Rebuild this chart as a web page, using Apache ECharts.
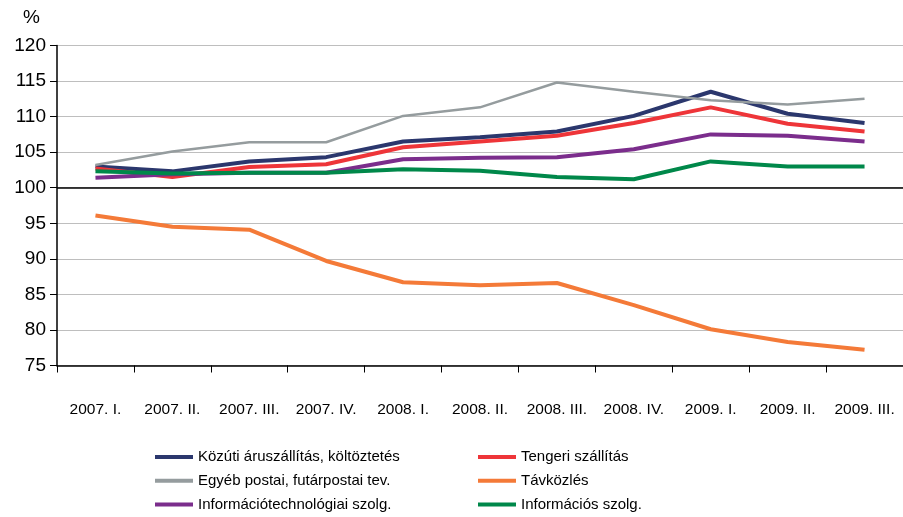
<!DOCTYPE html>
<html>
<head>
<meta charset="utf-8">
<script src="https://cdn.jsdelivr.net/npm/echarts@6/dist/echarts.min.js"></script>
<style>
  html, body { margin: 0; padding: 0; background: #fff; }
  #main { width: 903px; height: 517px; }
</style>
</head>
<body>
<div id="main"></div>
<script>
var quarters = ['2007. I.', '2007. II.', '2007. III.', '2007. IV.', '2008. I.', '2008. II.',
  '2008. III.', '2008. IV.', '2009. I.', '2009. II.', '2009. III.'];

var kozuti = [103.0, 102.3, 103.7, 104.3, 106.5, 107.1, 107.9, 110.1, 113.5, 110.4, 109.1];
var tengeri = [102.7, 101.5, 102.9, 103.3, 105.7, 106.5, 107.3, 109.1, 111.3, 109.0, 107.9];
var egyebPostai = [103.2, 105.1, 106.4, 106.4, 110.1, 111.3, 114.8, 113.5, 112.3, 111.7, 112.5];
var tavkozles = [96.1, 94.5, 94.1, 89.7, 86.7, 86.3, 86.6, 83.5, 80.1, 78.3, 77.2];
var infotech = [101.4, 101.9, 102.1, 102.1, 104.0, 104.2, 104.3, 105.4, 107.5, 107.3, 106.5];
var informacios = [102.3, 102.0, 102.1, 102.1, 102.6, 102.4, 101.5, 101.2, 103.7, 103.0, 103.0];

var seriesNames = ['Közúti áruszállítás, költöztetés', 'Tengeri szállítás', 'Egyéb postai, futárpostai tev.',
  'Távközlés', 'Információtechnológiai szolg.', 'Információs szolg.'];
var baseline = 100;

var font = '"Liberation Sans", Arial, sans-serif';

var myChart = echarts.init(document.getElementById('main'), null, { renderer: 'canvas' });

var line = function(name, data, color, width) {
  return {
    name: name,
    type: 'line',
    data: data,
    symbol: 'none',
    color: color,
    lineStyle: { color: color, width: width },
    animation: false
  };
};

var series = [
  line(seriesNames[0], kozuti, '#2B376D', 4),
  line(seriesNames[1], tengeri, '#EE3539', 4),
  line(seriesNames[2], egyebPostai, '#959C9E', 2.5),
  line(seriesNames[3], tavkozles, '#F47A38', 4),
  line(seriesNames[4], infotech, '#7B2D8C', 4),
  line(seriesNames[5], informacios, '#00884A', 4)
];

// fekete vonal a 100-as szinten
series[0].markLine = {
  silent: true,
  symbol: 'none',
  label: { show: false },
  lineStyle: { color: '#000', width: 1.5, type: 'solid' },
  data: [{ yAxis: baseline }]
};

var legendBase = {
  orient: 'vertical',
  top: 447,
  height: 70,
  padding: 0,
  itemWidth: 38,
  itemHeight: 4,
  itemGap: 3.8,
  icon: 'rect',
  textStyle: { fontFamily: font, fontSize: 15, color: '#000', lineHeight: 20 }
};

var option = {
  backgroundColor: '#fff',
  animation: false,
  graphic: [{
    type: 'text',
    left: 23,
    top: 8,
    style: { text: '%', font: '19px ' + font, fill: '#000' }
  }],
  legend: [
    Object.assign({}, legendBase, { left: 155, data: [seriesNames[0], seriesNames[2], seriesNames[4]] }),
    Object.assign({}, legendBase, { left: 478, data: [seriesNames[1], seriesNames[3], seriesNames[5]] })
  ],
  grid: {
    left: 57,
    top: 45.5,
    width: 851,
    height: 320,
    containLabel: false
  },
  xAxis: {
    type: 'category',
    data: quarters,
    boundaryGap: true,
    axisLine: { lineStyle: { color: '#000', width: 1.5 } },
    axisTick: { show: true, length: 7, lineStyle: { color: '#000', width: 1 } },
    axisLabel: { fontFamily: font, fontSize: 15.5, color: '#000', margin: 36, interval: 0 },
    splitLine: { show: false }
  },
  yAxis: {
    type: 'value',
    min: 75,
    max: 120,
    interval: 5,
    axisLine: { show: true, lineStyle: { color: '#000', width: 1.5 } },
    axisTick: { show: true, length: 7, lineStyle: { color: '#000', width: 1 } },
    axisLabel: { fontFamily: font, fontSize: 19, color: '#000', margin: 11 },
    splitLine: { show: true, lineStyle: { color: '#BEBEBE', width: 1 } }
  },
  series: series
};

myChart.setOption(option);
</script>
</body>
</html>
